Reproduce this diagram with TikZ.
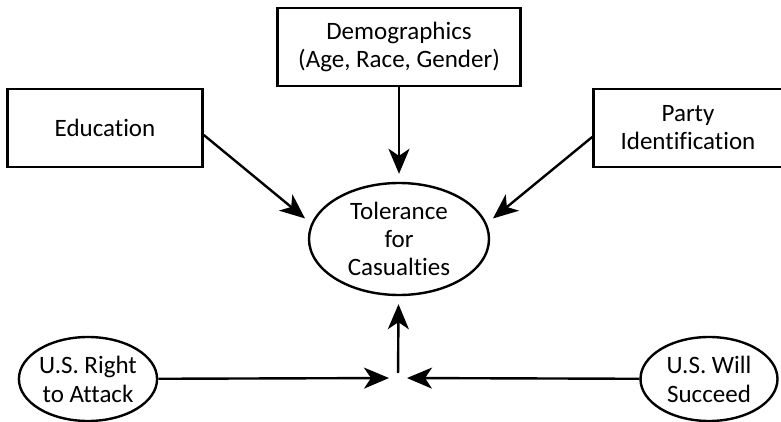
\documentclass[tikz,border=0pt]{standalone}
\usepackage{fontspec}
\setmainfont[Ligatures=NoCommon]{Carlito}
\usetikzlibrary{arrows.meta, shapes.geometric}

\begin{document}
\begin{tikzpicture}[x=1pt, y=-1pt, font=\fontsize{25}{28}\selectfont,
  box/.style={draw, line width=2.6pt, align=center, inner sep=0pt},
  oval/.style={draw, ellipse, line width=2.4pt, align=center, inner sep=0pt},
  link/.style={line width=2.4pt, -{Stealth[length=25pt, width=21pt, inset=7pt]}}]
\useasboundingbox (0,0) rectangle (781,422);
\node[box, minimum width=243, minimum height=78] (demo) at (399,47) {Demographics\\(Age, Race, Gender)};
\node[box, minimum width=195, minimum height=78] (edu) at (105,128) {Education};
\node[box, minimum width=189, minimum height=78] (party) at (688,128) {Party\\Identification};
\node[oval, minimum width=180, minimum height=112] (tol) at (399,239) {Tolerance\\for\\Casualties};
\node[oval, minimum width=137, minimum height=84, font=\fontsize{25}{29}\selectfont] (right) at (88,379) {U.S. Right\\to Attack};
\node[oval, minimum width=137, minimum height=84, font=\fontsize{25}{29}\selectfont] (will) at (709,379) {U.S. Will\\Succeed};
\coordinate (meet) at (398,378);
\draw[link, shorten >=8pt] (demo) -- (tol);
\draw[link, shorten >=8pt] ([yshift=-7pt]edu.east) -- (tol.170);
\draw[link, shorten >=8pt] ([yshift=-9pt]party.west) -- (tol.10);
\draw[link, shorten >=9pt] (right) -- (meet);
\draw[link, shorten >=9pt] (will) -- (meet);
\draw[link, shorten <=5pt, shorten >=8pt] (meet) -- (tol);
\end{tikzpicture}
\end{document}
